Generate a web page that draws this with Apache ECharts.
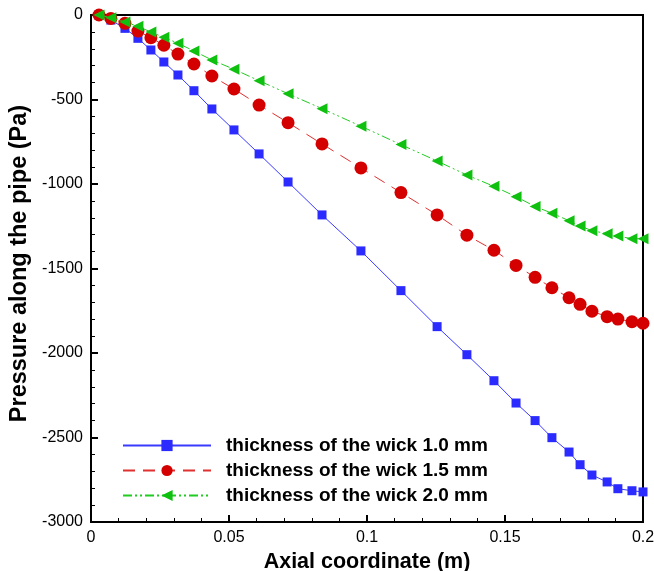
<!DOCTYPE html>
<html>
<head>
<meta charset="utf-8">
<script src="https://cdn.jsdelivr.net/npm/echarts@6/dist/echarts.min.js"></script>
<style>
  html, body { margin: 0; padding: 0; background: #fff; }
  #chart { width: 654px; height: 571px; }
</style>
</head>
<body>
<div id="chart"></div>
<script>
// Axial positions of the solution nodes (m)
const axialPos = [0.0029, 0.0072, 0.0123, 0.0170, 0.0217, 0.0264, 0.0315, 0.0373, 0.0438, 0.0518,
  0.0609, 0.0714, 0.0837, 0.0978, 0.1123, 0.1254, 0.1362, 0.1460, 0.1540, 0.1609,
  0.1670, 0.1732, 0.1772, 0.1815, 0.1870, 0.1909, 0.1960, 0.2000];

// Pressure along the pipe (Pa) for each wick thickness
const pWick10 = [0, -30, -79, -138, -207, -278, -355, -448, -556, -680,
  -822, -988, -1183, -1396, -1631, -1844, -2010, -2164, -2296, -2400,
  -2501, -2586, -2661, -2722, -2763, -2803, -2815, -2822];
const pWick15 = [0, -20, -49, -95, -134, -179, -231, -290, -361, -438,
  -533, -637, -763, -905, -1051, -1183, -1303, -1392, -1482, -1552,
  -1614, -1673, -1712, -1753, -1785, -1799, -1815, -1824];
const pWick20 = [0, -16, -41, -67, -101, -132, -167, -213, -266, -321,
  -389, -466, -554, -658, -767, -864, -947, -1014, -1075, -1133,
  -1173, -1217, -1248, -1276, -1294, -1308, -1324, -1324];

const seriesNames = ['thickness of the wick 1.0 mm', 'thickness of the wick 1.5 mm', 'thickness of the wick 2.0 mm'];

const pairs = ys => axialPos.map((x, i) => [x, ys[i]]);

const FONT = 'Liberation Sans, Arial, sans-serif';

const chart = echarts.init(document.getElementById('chart'), null, { renderer: 'canvas' });
chart.setOption({
  animation: false,
  backgroundColor: '#ffffff',
  textStyle: { fontFamily: FONT },
  grid: {
    left: 91, right: 11, top: 15, bottom: 49,
    outerBoundsMode: 'none', containLabel: false,
    show: true, borderColor: '#000', borderWidth: 2, backgroundColor: 'transparent'
  },
  legend: {
    orient: 'vertical',
    left: 122, top: 436, padding: 0,
    itemWidth: 88, itemHeight: 14, itemGap: 6,
    textStyle: { fontFamily: FONT, fontSize: 19, fontWeight: 'bold', color: '#000', padding: [0, 0, 0, 10] },
    data: seriesNames
  },
  xAxis: {
    type: 'value', min: 0, max: 0.2, interval: 0.05,
    name: 'Axial coordinate (m)', nameLocation: 'middle', nameGap: 23,
    nameTextStyle: { fontFamily: FONT, fontSize: 21.5, fontWeight: 'bold', color: '#000' },
    axisLine: { show: true, onZero: false, lineStyle: { color: '#000', width: 2 } },
    axisTick: { show: true, inside: true, length: 7, lineStyle: { color: '#000', width: 2 } },
    minorTick: { show: true, splitNumber: 5, length: 4, lineStyle: { color: '#000', width: 1 } },
    splitLine: { show: false },
    axisLabel: { fontFamily: FONT, fontSize: 16, color: '#000', margin: 8 }
  },
  yAxis: {
    type: 'value', min: -3000, max: 0, interval: 500,
    name: 'Pressure along the pipe (Pa)', nameLocation: 'middle', nameGap: 56,
    nameTextStyle: { fontFamily: FONT, fontSize: 23.5, fontWeight: 'bold', color: '#000', padding: [0, 0, 0, 10] },
    axisLine: { show: true, onZero: false, lineStyle: { color: '#000', width: 2 } },
    axisTick: { show: true, inside: true, length: 7, lineStyle: { color: '#000', width: 2 } },
    minorTick: { show: true, splitNumber: 5, length: 4, lineStyle: { color: '#000', width: 1 } },
    splitLine: { show: false },
    axisLabel: { fontFamily: FONT, fontSize: 16, color: '#000', margin: 8, formatter: v => String(v) }
  },
  series: [
    {
      name: seriesNames[0], type: 'line', data: pairs(pWick10),
      symbol: 'rect', symbolSize: 9,
      itemStyle: { color: '#2b2bff' },
      lineStyle: { color: '#3b3bff', width: 1, type: 'solid' },
      z: 2
    },
    {
      name: seriesNames[1], type: 'line', data: pairs(pWick15),
      symbol: 'circle', symbolSize: 13,
      itemStyle: { color: '#d40000' },
      lineStyle: { color: '#e03030', width: 1, type: [12, 8] },
      z: 3
    },
    {
      name: seriesNames[2], type: 'line', data: pairs(pWick20),
      symbol: 'triangle', symbolSize: 11, symbolRotate: 90,
      itemStyle: { color: '#10c010' },
      lineStyle: { color: '#20cc20', width: 1, type: [9, 3, 2, 3, 2, 3] },
      z: 4
    }
  ]
});
</script>
</body>
</html>
